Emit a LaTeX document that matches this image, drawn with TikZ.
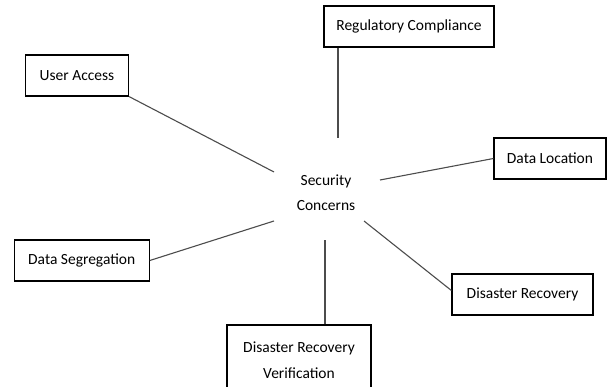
\documentclass[tikz,border=0pt]{standalone}
\usepackage{fontspec}
\setmainfont{Carlito}
\begin{document}
\begin{tikzpicture}[x=1pt,y=-1pt,
  box/.style={draw=black,line width=1.2pt,inner sep=0pt,align=center,font=\fontsize{15.5}{26}\selectfont},
  link/.style={draw=black!70,line width=1.1pt},
  lbl/.style={inner sep=0pt,align=center,font=\fontsize{15.5}{25}\selectfont}]
\useasboundingbox (0,0) rectangle (608,387);
\clip (0,0) rectangle (608,387);
\node[lbl] (sc) at (326,192.5) {Security\\Concerns};
\node[box,minimum width=170pt,minimum height=41pt] (reg) at (409,26.5) {Regulatory Compliance};
\node[box,minimum width=103pt,minimum height=41pt] (ua) at (77,75.5) {User Access};
\node[box,minimum width=112pt,minimum height=41pt] (dl) at (550,158.5) {Data Location};
\node[box,minimum width=135pt,minimum height=41pt] (seg) at (81.7,260.5) {Data Segregation};
\node[box,minimum width=141pt,minimum height=41pt] (dr) at (522.5,294.5) {Disaster Recovery};
\node[box,minimum width=144pt,minimum height=70pt] (drv) at (299,360) {Disaster Recovery\\Verification};
\coordinate (eua) at (274,172);
\coordinate (ereg) at (338,138);
\coordinate (edl) at (380,180);
\coordinate (eseg) at (274,221);
\coordinate (edr) at (364,221);
\coordinate (edrv) at (325,240);
\draw[link] (ua.south east) -- (eua);
\draw[link] ([xshift=-71pt]reg.south) -- (ereg);
\draw[link] (dl.west) -- (edl);
\draw[link] (seg.east) -- (eseg);
\draw[link] ([yshift=4pt]dr.west) -- (edr);
\draw[link] ([xshift=26pt]drv.north) -- (edrv);
\end{tikzpicture}
\end{document}
